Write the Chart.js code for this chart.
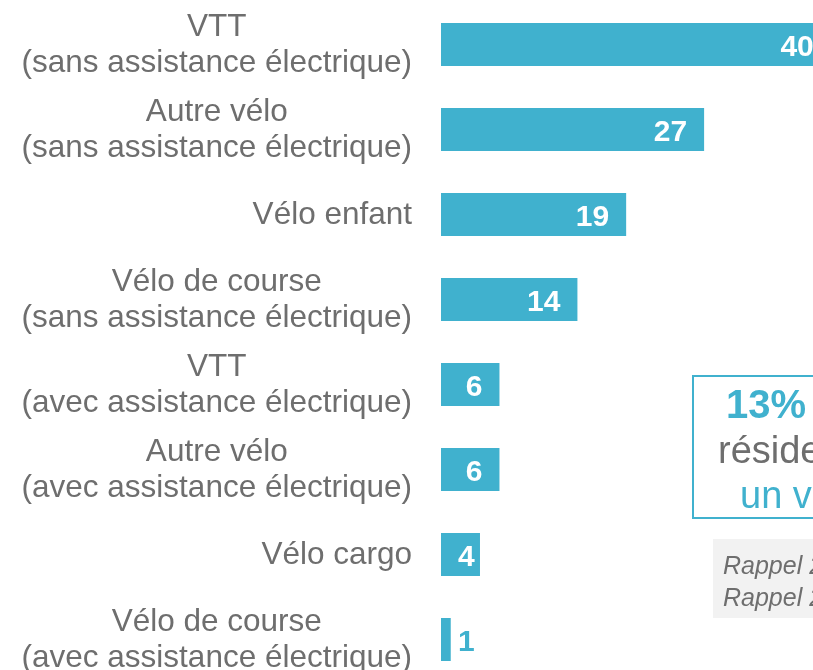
<!DOCTYPE html>
<html lang="fr">
<head>
<meta charset="utf-8">
<script src="https://cdn.jsdelivr.net/npm/chart.js@4"></script>
<style>
    html, body { margin: 0; padding: 0; background: #fff; }
    body { width: 813px; height: 670px; overflow: hidden; position: relative; font-family: "Liberation Sans", Arial, sans-serif; }
    #chart { position: absolute; left: 0; top: 0; }
    .note { position: absolute; white-space: nowrap; line-height: 1; }
    #box { position: absolute; left: 692px; top: 375px; width: 260px; height: 140px; border: 2px solid #40b1ce; }
    #recall { position: absolute; left: 713px; top: 539px; width: 260px; height: 79px; background: #f2f2f2; }
</style>
</head>
<body>
<canvas id="chart" width="899" height="682"></canvas>

<div id="box"></div>
<div class="note" style="left:726px; top:384px; font-size:40px; font-weight:bold; color:#40b1ce;">13% des</div>
<div class="note" style="left:718px; top:431px; font-size:38px; color:#6e6e6e;">résidents possèdent</div>
<div class="note" style="left:740px; top:476px; font-size:38px; color:#40b1ce;">un vélo électrique</div>

<div id="recall"></div>
<div class="note" style="left:723px; top:553px; font-size:25px; font-style:italic; color:#6e6e6e;">Rappel 2019 : 11%</div>
<div class="note" style="left:723px; top:585px; font-size:25px; font-style:italic; color:#6e6e6e;">Rappel 2017 : 9%</div>

<script>
const $ = (id) => document.getElementById(id);

// categories (one entry per line of the label)
const categories = [
    ["VTT", "(sans assistance électrique)"],
    ["Autre vélo", "(sans assistance électrique)"],
    ["Vélo enfant"],
    ["Vélo de course", "(sans assistance électrique)"],
    ["VTT", "(avec assistance électrique)"],
    ["Autre vélo", "(avec assistance électrique)"],
    ["Vélo cargo"],
    ["Vélo de course", "(avec assistance électrique)"]
];
const values = [40, 27, 19, 14, 6, 6, 4, 1];

const BLUE = "#40b1ce";
const GREY = "#6e6e6e";
const FONT = '"Liberation Sans", Arial, sans-serif';

// category labels: lines centred on each other, block right-aligned
const labelPlugin = {
    id: "labels",
    afterDraw(chart) {
        const ctx = chart.ctx;
        const y = chart.scales.y;
        ctx.save();
        ctx.font = `31.5px ${FONT}`;
        ctx.fillStyle = GREY;
        ctx.textAlign = "center";
        ctx.textBaseline = "alphabetic";
        categories.forEach((lines, i) => {
            const cy = y.getPixelForTick(i);
            const w = Math.max(...lines.map(l => ctx.measureText(l).width));
            const cx = 412 - w / 2;
            lines.forEach((l, k) => {
                ctx.fillText(l, cx, cy + (k - (lines.length - 1) / 2) * 36 + 9.5);
            });
        });
        ctx.restore();
    }
};

// value labels at the end of the bars
const valuePlugin = {
    id: "values",
    afterDatasetsDraw(chart) {
        const ctx = chart.ctx;
        const meta = chart.getDatasetMeta(0);
        ctx.save();
        ctx.font = `bold 30px ${FONT}`;
        ctx.textAlign = "left";
        ctx.textBaseline = "alphabetic";
        meta.data.forEach((bar, i) => {
            const txt = String(values[i]);
            const w = ctx.measureText(txt).width;
            const left = Math.max(bar.x - 17 - w, bar.base + 17);
            ctx.fillStyle = left + w <= bar.x ? "#fff" : BLUE;
            ctx.fillText(txt, left, bar.y + 11);
        });
        ctx.restore();
    }
};

new Chart($("chart"), {
    type: "bar",
    data: {
        labels: categories,
        datasets: [{
            data: values,
            backgroundColor: BLUE,
            borderWidth: 0,
            barPercentage: 43 / 85,
            categoryPercentage: 1
        }]
    },
    options: {
        indexAxis: "y",
        responsive: false,
        animation: false,
        layout: { padding: { left: 441, top: 2, right: 0, bottom: 0 } },
        plugins: { legend: { display: false }, tooltip: { enabled: false } },
        scales: {
            x: { display: false, min: 0, max: 47 },
            y: { display: false }
        }
    },
    plugins: [labelPlugin, valuePlugin]
});
</script>
</body>
</html>
